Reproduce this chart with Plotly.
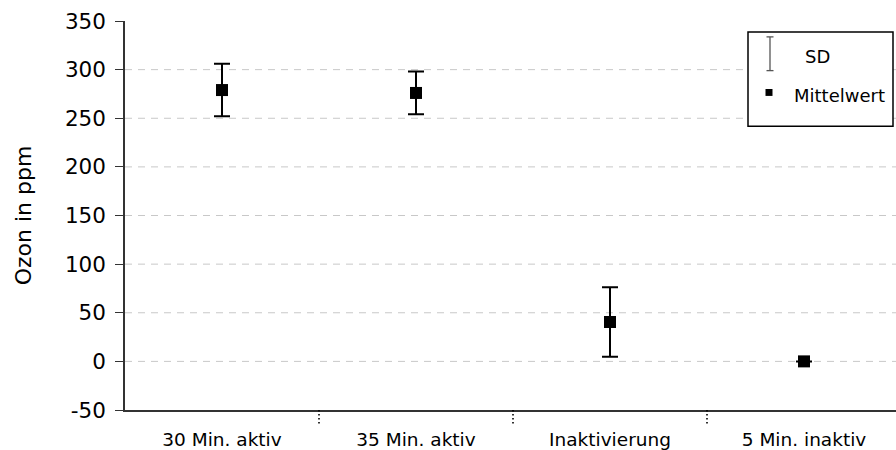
import plotly.graph_objects as go

# Ozone concentration per phase: mean and standard deviation (ppm)
categories = ["30 Min. aktiv", "35 Min. aktiv", "Inaktivierung", "5 Min. inaktiv"]
mean_ppm = [279, 276, 40.5, 0]
sd_ppm = [27, 22, 35.7, 0]

y_ticks = [-50, 0, 50, 100, 150, 200, 250, 300, 350]
y_tick_text = ["-50", "0", "50", "100", "150", "200", "250", "300", "350"]
grid_vals = [0, 50, 100, 150, 200, 250, 300]

W, H = 896, 450
L, R, T, B = 125, 0, 21, 37
FONT = "DejaVu Sans"

x_pos = list(range(len(categories)))

fig = go.Figure()
fig.add_trace(go.Scatter(
    x=x_pos, y=mean_ppm, mode="markers",
    marker=dict(symbol="square", size=12, color="black"),
    error_y=dict(type="data", array=sd_ppm, visible=True,
                 color="black", thickness=2, width=8),
    showlegend=False, hoverinfo="skip",
))

pw = W - L - R
ph = H - T - B


def px(x):
    return (x - L) / pw


def py(y):
    return (H - B - y) / ph


shapes = []
# dashed horizontal gridlines
for g in grid_vals:
    shapes.append(dict(type="line", xref="paper", yref="y",
                       x0=0, x1=1, y0=g, y1=g, layer="below",
                       line=dict(color="#c8c8c8", width=1, dash="7px,6px")))

# dotted category separators below the x axis
for i in range(len(categories) - 1):
    shapes.append(dict(type="line", xref="x", yref="paper",
                       x0=i + 0.5, x1=i + 0.5, y0=0, y1=-14 / ph,
                       line=dict(color="black", width=1.6, dash="1.5px,2.5px")))

# legend frame and glyphs
shapes.append(dict(type="rect", xref="paper", yref="paper",
                   x0=px(748), x1=px(893), y0=py(127), y1=py(32),
                   line=dict(color="black", width=1.5), fillcolor="white",
                   layer="above"))
shapes.append(dict(type="line", xref="paper", yref="paper",
                   x0=px(770), x1=px(770), y0=py(71), y1=py(37),
                   line=dict(color="#555555", width=1.3), layer="above"))
for yy in (37, 71):
    shapes.append(dict(type="line", xref="paper", yref="paper",
                       x0=px(766.5), x1=px(773.5), y0=py(yy), y1=py(yy),
                       line=dict(color="#555555", width=1.3), layer="above"))
shapes.append(dict(type="rect", xref="paper", yref="paper",
                   x0=px(765.5), x1=px(772.5), y0=py(96.5), y1=py(89.5),
                   line=dict(width=0), fillcolor="black", layer="above"))

annotations = [
    dict(text="SD", xref="paper", yref="paper", x=px(803), y=py(57),
         xanchor="left", yanchor="middle", showarrow=False,
         font=dict(family=FONT, size=18, color="black")),
    dict(text="Mittelwert", xref="paper", yref="paper", x=px(792), y=py(96),
         xanchor="left", yanchor="middle", showarrow=False,
         font=dict(family=FONT, size=18, color="black")),
]

fig.update_layout(
    width=W, height=H,
    margin=dict(l=L, r=R, t=T, b=B, pad=0),
    paper_bgcolor="white", plot_bgcolor="white",
    font=dict(family=FONT, color="black"),
    showlegend=False,
    shapes=shapes,
    annotations=annotations,
    xaxis=dict(
        range=[-0.5, -0.5 + pw / 194.0],
        tickmode="array", tickvals=x_pos, ticktext=categories,
        ticks="", showgrid=False, zeroline=False,
        showline=True, linecolor="#333333", linewidth=1.5,
        tickfont=dict(family=FONT, size=18.5, color="black"),
        ticklabelstandoff=12,
    ),
    yaxis=dict(
        range=[-50, 350],
        tickmode="array", tickvals=y_ticks, ticktext=y_tick_text,
        ticks="outside", ticklen=8, tickcolor="#333333", tickwidth=1,
        showgrid=False, zeroline=False,
        showline=True, linecolor="#333333", linewidth=1.5,
        tickfont=dict(family=FONT, size=21.5, color="black"),
        ticklabelstandoff=5,
        title=dict(text="Ozon in ppm", standoff=27,
                   font=dict(family=FONT, size=22, color="black")),
    ),
)

fig.write_html("out.html")
